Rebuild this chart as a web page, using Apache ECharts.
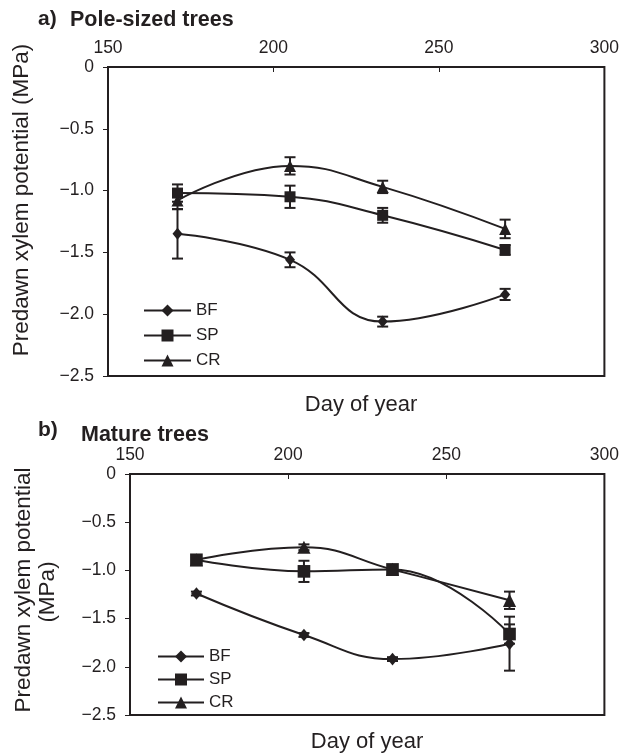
<!DOCTYPE html>
<html>
<head>
<meta charset="utf-8">
<script src="https://cdn.jsdelivr.net/npm/echarts@6/dist/echarts.min.js"></script>
<style>
html,body{margin:0;padding:0;background:#fff;}
#c{width:622px;height:755px;}
</style>
</head>
<body>
<div id="c"></div>
<script>
// ---- Data ----
const days = [171, 205, 233, 270];
const seriesNames = ['BF', 'SP', 'CR'];
const xTicks = [150, 200, 250, 300];
const yTicks = [0, -0.5, -1.0, -1.5, -2.0, -2.5];
const yTickLabels = ['0', '\u22120.5', '\u22121.0', '\u22121.5', '\u22122.0', '\u22122.5'];

// Panel a: Pole-sized trees
const poleBF = [-1.35, -1.56, -2.06, -1.84];
const poleBFerr = [0.20, 0.06, 0.04, 0.045];
const poleSP = [-1.02, -1.05, -1.20, -1.48];
const poleSPerr = [0.07, 0.09, 0.06, 0.04];
const poleCR = [-1.08, -0.80, -0.97, -1.31];
const poleCRerr = [0.07, 0.07, 0.05, 0.075];

// Panel b: Mature trees
const matBF = [-1.24, -1.67, -1.92, -1.76];
const matBFerr = [0.02, 0.02, 0.02, 0.28];
const matSP = [-0.89, -1.01, -0.99, -1.66];
const matSPerr = [0.05, 0.11, 0.03, 0.10];
const matCR = [-0.89, -0.76, -0.99, -1.31];
const matCRerr = [0.03, 0.03, 0.03, 0.09];

const INK = '#231f20';
const FONT = '"Liberation Sans", Arial, Helvetica, sans-serif';

const chart = echarts.init(document.getElementById('c'), null, {renderer: 'canvas'});

function xAxisCfg(gi) {
  return {
    gridIndex: gi, type: 'value', position: 'top',
    min: xTicks[0], max: xTicks[xTicks.length - 1], interval: 50,
    axisLine: {show: false},
    axisTick: {show: true, inside: true, length: 5, lineStyle: {color: INK, width: 1}},
    axisLabel: {color: INK, fontSize: 17.5, fontFamily: FONT, margin: 10},
    splitLine: {show: false}
  };
}
function yAxisCfg(gi) {
  return {
    gridIndex: gi, type: 'value',
    min: yTicks[yTicks.length - 1], max: yTicks[0], interval: 0.5,
    axisLine: {show: false},
    axisTick: {show: true, inside: false, length: 5, lineStyle: {color: INK, width: 1}},
    axisLabel: {
      color: INK, fontSize: 17.5, fontFamily: FONT, margin: 14,
      formatter: function (v) {
        const i = yTicks.findIndex(t => Math.abs(t - v) < 1e-6);
        return i >= 0 ? yTickLabels[i] : '';
      }
    },
    splitLine: {show: false}
  };
}

const symbols = {BF: 'diamond', SP: 'rect', CR: 'triangle'};
const symSizes = {BF: [10, 12], SP: 11, CR: 12};

function lineSeries(name, vals, gi, sizeScale) {
  const s = symSizes[name];
  const size = Array.isArray(s) ? s.map(v => v * sizeScale) : s * sizeScale;
  return {
    name: name, type: 'line', xAxisIndex: gi, yAxisIndex: gi,
    data: days.map((d, i) => [d, vals[i]]),
    smooth: 0.45,
    symbol: symbols[name], symbolSize: size,
    lineStyle: {color: INK, width: 2},
    itemStyle: {color: INK},
    z: 3, silent: true, animation: false
  };
}
function errSeries(name, vals, errs, gi) {
  return {
    name: name + ' err', type: 'custom', xAxisIndex: gi, yAxisIndex: gi,
    data: days.map((d, i) => [d, vals[i], errs[i]]),
    z: 2, silent: true, animation: false,
    renderItem: function (params, api) {
      const x = api.value(0), y = api.value(1), e = api.value(2);
      const hi = api.coord([x, y + e]);
      const lo = api.coord([x, y - e]);
      const cw = 5.5;
      const st = {stroke: INK, lineWidth: 2};
      return {
        type: 'group',
        children: [
          {type: 'line', shape: {x1: hi[0], y1: hi[1], x2: lo[0], y2: lo[1]}, style: st},
          {type: 'line', shape: {x1: hi[0] - cw, y1: hi[1], x2: hi[0] + cw, y2: hi[1]}, style: st},
          {type: 'line', shape: {x1: lo[0] - cw, y1: lo[1], x2: lo[0] + cw, y2: lo[1]}, style: st}
        ]
      };
    }
  };
}

function vText(text, x, y, size) {
  return {
    type: 'text', x: x, y: y, rotation: Math.PI / 2, silent: true,
    style: {text: text, fill: INK, font: size + 'px ' + FONT,
      align: 'center', verticalAlign: 'middle', textAlign: 'center', textVerticalAlign: 'middle'}
  };
}
function hText(text, x, y, size, bold, align) {
  return {
    type: 'text', x: x, y: y, silent: true,
    style: {text: text, fill: INK, font: (bold ? 'bold ' : '') + size + 'px ' + FONT,
      align: align || 'center', verticalAlign: 'middle',
      textAlign: align || 'center', textVerticalAlign: 'middle'}
  };
}

const option = {
  backgroundColor: '#ffffff',
  animation: false,
  grid: [
    {left: 108, top: 67, width: 502, height: 309, show: true, borderColor: INK, borderWidth: 2, backgroundColor: 'transparent'},
    {left: 130, top: 474, width: 477, height: 241, show: true, borderColor: INK, borderWidth: 2, backgroundColor: 'transparent'}
  ],
  xAxis: [xAxisCfg(0), xAxisCfg(1)],
  yAxis: [yAxisCfg(0), yAxisCfg(1)],
  legend: [
    {
      data: seriesNames, orient: 'vertical', left: 138, top: 297,
      itemWidth: 47, itemHeight: 15, itemGap: 8, selectedMode: false,
      textStyle: {color: INK, fontSize: 17, fontFamily: FONT}
    },
    {
      data: seriesNames, orient: 'vertical', left: 152, top: 643,
      itemWidth: 46, itemHeight: 15, itemGap: 6, selectedMode: false,
      textStyle: {color: INK, fontSize: 17, fontFamily: FONT}
    }
  ],
  graphic: [
    hText('a)', 38, 19, 21, true, 'left'),
    hText('Pole-sized trees', 70, 20, 21.5, true, 'left'),
    vText('Predawn xylem potential (MPa)', 22, 200, 22.5),
    hText('Day of year', 361, 405, 22, false, 'center'),
    hText('b)', 38, 430, 21, true, 'left'),
    hText('Mature trees', 81, 435, 21.5, true, 'left'),
    vText('Predawn xylem potential', 24, 590, 22.5),
    vText('(MPa)', 48, 592, 22.5),
    hText('Day of year', 367, 742, 22, false, 'center')
  ],
  series: [
    errSeries('BF', poleBF, poleBFerr, 0),
    errSeries('SP', poleSP, poleSPerr, 0),
    errSeries('CR', poleCR, poleCRerr, 0),
    lineSeries('BF', poleBF, 0, 1),
    lineSeries('SP', poleSP, 0, 1),
    lineSeries('CR', poleCR, 0, 1),
    errSeries('BF', matBF, matBFerr, 1),
    errSeries('SP', matSP, matSPerr, 1),
    errSeries('CR', matCR, matCRerr, 1),
    lineSeries('BF', matBF, 1, 1.05),
    lineSeries('SP', matSP, 1, 1.15),
    lineSeries('CR', matCR, 1, 1.1)
  ]
};
chart.setOption(option);
</script>
</body>
</html>
